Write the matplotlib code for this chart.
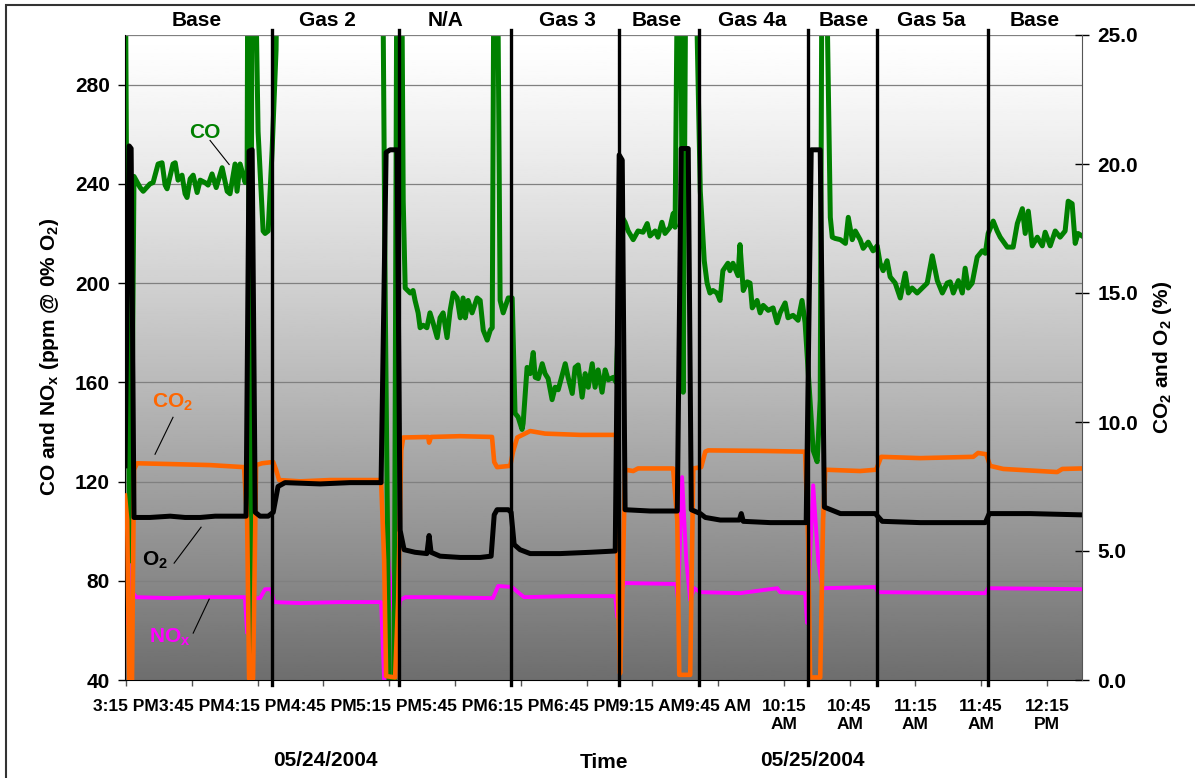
import numpy as np
import matplotlib.pyplot as plt
from matplotlib.patches import Rectangle

plt.rcParams['font.family'] = ['Liberation Sans', 'DejaVu Sans']
plt.rcParams['font.weight'] = 'bold'

# time axis in minutes from 3:15 PM (overnight gap removed, like the category axis)
tick_labels = ["3:15 PM", "3:45 PM", "4:15 PM", "4:45 PM", "5:15 PM", "5:45 PM",
               "6:15 PM", "6:45 PM", "9:15 AM", "9:45 AM", "10:15\nAM", "10:45\nAM",
               "11:15\nAM", "11:45\nAM", "12:15\nPM"]
segment_names = ["Base", "Gas 2", "N/A", "Gas 3", "Base", "Gas 4a", "Base", "Gas 5a", "Base"]
segment_label_t = [32.2, 91.7, 145.5, 201.2, 242.0, 285.6, 327.5, 367.2, 414.4]
separator_t = [66.5, 124.5, 175.5, 224.9, 261.5, 311.1, 342.5, 393.2]

# CO (ppm @ 0% O2), left axis; values above 300 run off the chart
co_points = [
    (-0.5, 360), (0.5, 193), (1.8, 88), (2.7, 145), (3.6, 243),
    (6.4, 238.5), (7.8, 237), (10.9, 240), (12.3, 240.5), (14.6, 248), (16.4, 248.5),
    (17.8, 239.5), (18.7, 238), (21.4, 248), (22.4, 248.5), (23.7, 241.5), (25.5, 243.5),
    (26.9, 236), (27.8, 234.5), (29.2, 242), (30.6, 243.5), (32.4, 236.5), (33.8, 241.5),
    (36.0, 240.5), (37.4, 239.5), (39.2, 244), (41.1, 238.5), (43.8, 246.5), (46.1, 237),
    (47.4, 236), (49.7, 248), (50.6, 237), (52.0, 248), (54.3, 240.5), (55.2, 244),
    (55.6, 360), (56.6, 40), (57.5, 360), (58.4, 360), (60.2, 261), (62.5, 221), (63.4, 220),
    (64.8, 221), (66.6, 253.5), (68.4, 294), (69.3, 360),
    (116.8, 360), (118.2, 193), (119.9, 40), (122.3, 40), (123.6, 360), (125.5, 360),
    (126.4, 233), (127.3, 198), (129.6, 196), (130.9, 197), (131.8, 193), (133.2, 188),
    (134.1, 182), (135.5, 183), (137.2, 182), (138.6, 188), (140.0, 184), (141.9, 178),
    (143.2, 186), (144.6, 188), (146.4, 178), (147.8, 189), (149.2, 196), (151.0, 194),
    (152.4, 186), (153.7, 194), (154.7, 186), (156.0, 193), (157.8, 188), (160.1, 194),
    (161.5, 193), (162.9, 181), (164.7, 177), (166.1, 181), (167.0, 182), (167.9, 360),
    (169.2, 360), (170.6, 193), (172.0, 188), (174.3, 194), (176.1, 194), (176.5, 180),
    (177.4, 147.5), (178.8, 146), (180.6, 141), (181.1, 143.5), (182.9, 166), (184.3, 163.5),
    (185.7, 172), (186.6, 162), (188.0, 161.5), (189.8, 167.5), (191.1, 163.5), (192.5, 161.5),
    (194.3, 153), (195.7, 158), (197.1, 157), (198.9, 163), (200.3, 167.5), (201.6, 162),
    (203.5, 155.5), (204.8, 166), (206.2, 167), (208.0, 154), (209.4, 163.5), (210.8, 158),
    (212.6, 167.5), (213.9, 158), (215.3, 165), (217.1, 156), (218.5, 165), (219.9, 161),
    (222.2, 162), (223.5, 160),
    (226.3, 226.5), (227.6, 224.5), (229.0, 221), (231.3, 217.5), (233.5, 221), (235.8, 220.5),
    (237.7, 224), (239.0, 219), (241.3, 221), (242.6, 218.5), (244.4, 224.5), (245.8, 220),
    (248.1, 222.5), (249.5, 228), (250.4, 222.5), (251.8, 360), (252.7, 360), (254.1, 156),
    (255.5, 360), (259.1, 360), (261.9, 237), (263.7, 209), (265.0, 200), (266.3, 196),
    (267.7, 197), (269.5, 196), (270.9, 193), (272.2, 205), (274.5, 208), (275.4, 205),
    (276.8, 208), (279.1, 203), (280.0, 215.5), (281.5, 197), (283.3, 200.5), (284.6, 200),
    (285.6, 190), (287.8, 193), (289.2, 188), (290.6, 191), (292.9, 189), (295.1, 190),
    (296.9, 184), (298.3, 188), (300.6, 192), (301.9, 186), (304.2, 187), (306.5, 185),
    (308.3, 193), (309.7, 184), (313.4, 132.5), (315.2, 128), (316.6, 153), (317.5, 360),
    (318.9, 360), (321.2, 226.5), (322.1, 218.5), (323.4, 218), (325.8, 217.5), (328.1, 216),
    (329.4, 226.5), (331.2, 217.5), (332.6, 221), (334.8, 217.5), (336.2, 214), (338.5, 216.5),
    (340.7, 213), (342.6, 215), (343.9, 208), (345.3, 205), (347.1, 209), (348.5, 202.5),
    (350.8, 200), (353.1, 194), (355.4, 204), (356.8, 196), (358.5, 198), (360.8, 196),
    (363.1, 198), (365.4, 200), (367.7, 211), (370.0, 201), (372.3, 196), (374.5, 200),
    (375.9, 200.5), (377.3, 196), (379.6, 201), (381.4, 196), (382.7, 206), (384.1, 198),
    (385.9, 200), (388.2, 210.5), (390.5, 213), (391.9, 212), (393.2, 220), (395.5, 225),
    (397.3, 221), (398.7, 218.5), (401.9, 214.5), (404.6, 214.5), (406.5, 224), (408.8, 230),
    (410.1, 220), (411.5, 229), (413.3, 215), (415.6, 218.5), (417.9, 215), (419.2, 220.5),
    (421.5, 215), (423.8, 221), (426.0, 218.5), (428.3, 221), (429.7, 233), (431.5, 232),
    (432.9, 216), (434.2, 220), (436.0, 219),
]

# NOx (ppm @ 0% O2), left axis
nox_points = [
    (-0.5, 63), (0.5, 112), (1.8, 56), (3.2, 75), (4.6, 73.4), (20.1, 73), (33.8, 73.4),
    (54.2, 73.4), (55.2, 59), (56.6, 83), (57.9, 73), (61.1, 73), (63.4, 76.6), (66.1, 76.6),
    (67.5, 71.4), (79.4, 71), (97.6, 71.4), (116.3, 71.4), (117.7, 40), (118.6, 40),
    (119.5, 89.5), (121.3, 72.2), (123.2, 61.3), (125.0, 72.2), (127.3, 73.4), (143.2, 73.4),
    (167.3, 73), (169.7, 77.9), (175.9, 77.5), (178.7, 75.4), (181.5, 73.4), (202.5, 73.8),
    (223.1, 73.8), (224.0, 65.4), (225.3, 72.2), (227.1, 79.1), (250.9, 78.7), (251.8, 72.2),
    (253.6, 121.8), (255.5, 88.3), (257.3, 72.2), (259.1, 77), (261.9, 75.4), (280.1, 75),
    (297.0, 77), (298.3, 75.4), (309.7, 75), (310.6, 63), (313.4, 118.5), (315.7, 88),
    (317.5, 77), (341.7, 77.5), (343.0, 75.4), (391.9, 75), (393.2, 77), (436.0, 76.6),
]

# CO2 (%), right axis
co2_points = [
    (-0.5, 7.15), (0.5, 6.2), (1.4, 0.0), (2.7, 0.0), (3.6, 8.15), (5.0, 8.4), (20.1, 8.37),
    (38.3, 8.33), (53.8, 8.25), (55.2, 6.2), (56.1, 0.05), (57.9, 0.05), (59.3, 8.33),
    (62.0, 8.4), (67.1, 8.45), (68.4, 8.15), (69.8, 7.75), (79.4, 7.7), (93.1, 7.75),
    (116.3, 7.75), (117.7, 4.65), (118.6, 0.15), (122.7, 0.1), (124.1, 3.1), (125.5, 8.9),
    (126.4, 9.4), (137.8, 9.42), (138.2, 9.2), (139.1, 9.42), (152.4, 9.45), (166.9, 9.42),
    (167.9, 8.45), (169.2, 8.25), (175.2, 8.3), (176.5, 8.85), (178.4, 9.4), (184.3, 9.65),
    (191.1, 9.55), (207.1, 9.5), (223.5, 9.5), (224.4, 3.1), (225.3, 0.25), (226.3, 3.1),
    (227.6, 8.15), (231.3, 8.1), (233.5, 8.2), (249.5, 8.2), (251.4, 6.2), (252.3, 0.2),
    (257.3, 0.2), (258.7, 8.2), (262.3, 8.25), (264.2, 8.85), (265.5, 8.9), (289.2, 8.88),
    (309.7, 8.85), (311.1, 5.4), (312.0, 0.1), (316.6, 0.1), (317.9, 6.2), (318.9, 8.15),
    (334.8, 8.1), (342.1, 8.15), (344.4, 8.65), (362.2, 8.6), (386.4, 8.65), (388.6, 8.8),
    (392.3, 8.75), (394.1, 8.3), (400.1, 8.18), (424.7, 8.06), (427.0, 8.18), (436.0, 8.2),
]

# O2 (%), right axis
o2_points = [
    (-0.5, 8.3), (1.4, 20.7), (2.3, 20.6), (3.6, 6.3), (10.9, 6.3), (20.1, 6.35), (26.9, 6.3),
    (33.8, 6.3), (40.6, 6.35), (47.4, 6.35), (54.7, 6.35), (56.1, 20.5), (57.5, 20.55),
    (58.9, 6.5), (61.1, 6.35), (64.8, 6.35), (67.1, 6.5), (69.3, 7.5), (72.5, 7.65),
    (88.5, 7.6), (102.2, 7.65), (116.3, 7.65), (118.6, 20.45), (120.4, 20.55), (123.6, 20.55),
    (125.0, 5.8), (126.8, 5.05), (131.8, 4.95), (137.2, 4.9), (138.2, 5.6), (139.1, 4.95),
    (143.2, 4.8), (152.4, 4.75), (161.5, 4.75), (166.5, 4.8), (167.9, 6.4), (169.2, 6.6),
    (174.3, 6.6), (175.6, 6.5), (177.0, 5.25), (179.7, 5.05), (184.3, 4.9), (198.0, 4.9),
    (211.7, 4.95), (223.1, 5.0), (224.9, 20.35), (226.3, 20.15), (227.6, 6.6), (239.0, 6.55),
    (251.4, 6.55), (253.2, 20.6), (256.4, 20.6), (257.8, 6.6), (261.9, 6.45), (264.2, 6.3),
    (271.0, 6.2), (279.7, 6.2), (280.6, 6.45), (281.5, 6.15), (293.8, 6.1), (310.2, 6.1),
    (312.5, 20.55), (316.6, 20.55), (318.5, 6.7), (325.8, 6.45), (341.7, 6.45), (344.9, 6.15),
    (362.2, 6.1), (391.9, 6.1), (393.7, 6.45), (412.4, 6.45), (436.0, 6.4),
]

fig = plt.figure(figsize=(11.95, 7.78), dpi=100)
pos = [125 / 1195, 98 / 778, 957 / 1195, 645 / 778]

# grey gradient plot area, white at the top
bg = fig.add_axes(pos, zorder=0)
f = np.linspace(0, 1, 300)[:, None]
shade = 1 - (1 - 110 / 255) * f ** 1.2
bg.imshow(shade, cmap='gray', vmin=0, vmax=1, aspect='auto', extent=[0, 1, 0, 1])
bg.axis('off')

ax = fig.add_axes(pos, zorder=1)
ax.patch.set_visible(False)
ax2 = ax.twinx()
ax2.set_zorder(2)

t, v = np.array(nox_points).T
ax.plot(t, v, color='#FF00FF', lw=2.8, solid_joinstyle='round')
t, v = np.array(co_points).T
ax.plot(t, v, color='#008000', lw=3.6, solid_joinstyle='round')
t, v = np.array(co2_points).T
ax2.plot(t, v, color='#FF6600', lw=3.3, solid_joinstyle='round')
t, v = np.array(o2_points).T
ax2.plot(t, v, color='black', lw=3.6, solid_joinstyle='round')

for s in separator_t:
    ax2.axvline(s, ymin=-0.008, ymax=1.008, color='black', lw=2.4, clip_on=False, zorder=5)

ax.set_xlim(-0.5, 436)
ax.set_ylim(40, 300)
ax2.set_ylim(0, 25)

ax.set_yticks(range(40, 281, 40))
ax.yaxis.grid(True, color='#808080', lw=0.9)
ax.axhline(300, color='#808080', lw=0.9)
ax.set_axisbelow(True)
ax2.set_yticks(np.arange(0, 25.1, 5))
ax2.set_yticklabels([f"{x:.1f}" for x in np.arange(0, 25.1, 5)])
ax.set_xticks(range(0, 421, 30))
ax.set_xticklabels(tick_labels)

ax.tick_params(axis='y', direction='out', length=5, width=1, pad=6, labelsize=15)
ax.tick_params(axis='x', direction='out', length=4, width=1, pad=10, labelsize=12.5, color='#555555')
ax2.tick_params(axis='y', direction='inout', length=10, width=1, pad=6, labelsize=15)

for sp in ['top', 'right']:
    ax.spines[sp].set_visible(False)
for sp in ['top', 'left', 'bottom']:
    ax2.spines[sp].set_visible(False)
ax2.spines['right'].set_color('#555555')

for name, tx in zip(segment_names, segment_label_t):
    ax.text(tx, 1.023, name, transform=ax.get_xaxis_transform(), ha='center', va='center',
            fontsize=15, fontweight='bold')

# series labels with leader lines
ax.text(36.0, 260.7, "CO", color='#008000', ha='center', va='center', fontsize=15)
ax.plot([38.3, 47.0], [257.5, 247.8], color='black', lw=0.8)
ax.text(21.0, 152, r"CO$_\mathregular{2}$", color='#FF6600', ha='center', va='center', fontsize=15)
ax.plot([21.4, 13.2], [145.9, 131.0], color='black', lw=0.8)
ax.text(13.2, 88.3, r"O$_\mathregular{2}$", color='black', ha='center', va='center', fontsize=15)
ax.plot([21.9, 34.2], [87.1, 101.6], color='black', lw=0.8)
ax.text(20.1, 57.3, r"NO$_\mathregular{x}$", color='#FF00FF', ha='center', va='center', fontsize=15)
ax.plot([30.6, 37.9], [58.9, 72.6], color='black', lw=0.8)

fig.text(50 / 1195, 1 - 357 / 778, r"CO and NO$_\mathregular{x}$ (ppm @ 0% O$_\mathregular{2}$)",
         rotation=90, ha='center', va='center', fontsize=15)
fig.text(1162 / 1195, 1 - 357 / 778, r"CO$_\mathregular{2}$ and O$_\mathregular{2}$ (%)",
         rotation=90, ha='center', va='center', fontsize=15)
fig.text(325 / 1195, 1 - 761 / 778, "05/24/2004", ha='center', va='center', fontsize=15)
fig.text(604 / 1195, 1 - 762 / 778, "Time", ha='center', va='center', fontsize=15)
fig.text(812 / 1195, 1 - 761 / 778, "05/25/2004", ha='center', va='center', fontsize=15)

fig.add_artist(Rectangle((6 / 1195, -0.1), 1.2, 1.1 - 5 / 778, fill=False, edgecolor='#333333',
                         lw=1.5, transform=fig.transFigure))

fig.savefig("out.png", dpi=100)
